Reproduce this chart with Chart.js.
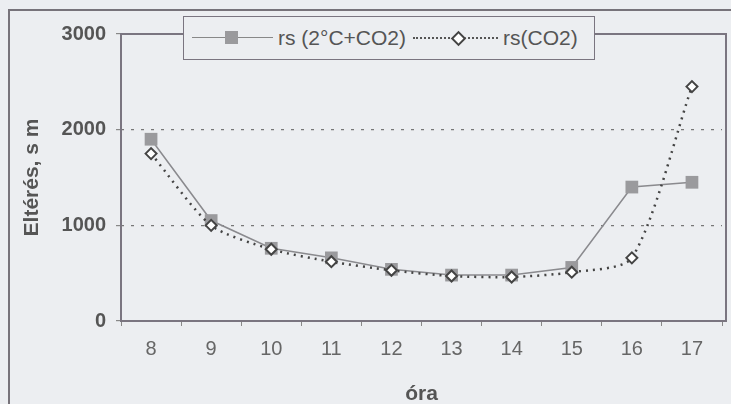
<!DOCTYPE html>
<html>
<head>
<meta charset="utf-8">
<script src="https://cdn.jsdelivr.net/npm/chart.js@4/dist/chart.umd.min.js"></script>
<style>
  html, body { margin: 0; padding: 0; background: #eceef1; }
  #wrap { position: relative; width: 731px; height: 404px; }
  #frame { position: absolute; left: 8px; top: 9px; right: -4px; bottom: -4px; border-left: 2px solid #77737a; border-top: 2px solid #77737a; }
  #legend {
    position: absolute; left: 183px; top: 16px; width: 410px; height: 42px;
    border: 1.5px solid #7a7580; background: #eceef1;
    font-family: "Liberation Sans", Arial, sans-serif; font-size: 21px; color: #555;
    display: flex; align-items: center; white-space: nowrap;
  }
  .sample { position: relative; display: inline-block; height: 14px; }
  .sample .ln { position: absolute; left: 0; right: 0; top: 6px; }
  .sq { position: absolute; width: 13px; height: 13px; background: #9a9a9d; top: 0px; }
  .dm { position: absolute; width: 7px; height: 7px; background: #fff; border: 2px solid #444; transform: rotate(45deg); top: 2px; }
</style>
</head>
<body>
<div id="wrap">
  <div id="frame"></div>
  <canvas id="chart" width="731" height="404"></canvas>
  <div id="legend">
    <span class="sample" style="width:81px;margin-left:8px">
      <span class="ln" style="border-top:1px solid #888"></span>
      <span class="sq" style="left:33px"></span>
    </span>
    <span id="lab1" style="margin-left:5px"></span>
    <span class="sample" style="width:85px;margin-left:7px">
      <span class="ln" style="border-top:2.5px dotted #555"></span>
      <span class="dm" style="left:40px"></span>
    </span>
    <span id="lab2" style="margin-left:5px"></span>
  </div>
</div>
<script>
// data
const hours = ['8', '9', '10', '11', '12', '13', '14', '15', '16', '17'];
const labelWarm = 'rs (2°C+CO2)';
const labelCO2 = 'rs(CO2)';
const rsWarm = [1900, 1050, 760, 660, 540, 480, 480, 560, 1400, 1450];
const rsCO2 = [1750, 1000, 750, 620, 530, 470, 460, 510, 660, 2450];
const yTicks = [0, 1000, 2000, 3000];

document.getElementById('lab1').textContent = labelWarm;
document.getElementById('lab2').textContent = labelCO2;

const FONT = '"Liberation Sans", Arial, sans-serif';

// box round the plot area (right side sits a little past the last category)
const plotBorder = {
  id: 'plotBorder',
  afterDatasetsDraw(chart) {
    const { ctx, chartArea: a } = chart;
    ctx.save();
    ctx.strokeStyle = '#7a7580';
    ctx.lineWidth = 2;
    ctx.strokeRect(a.left, a.top, a.right - a.left + 4, a.bottom - a.top);
    ctx.restore();
  }
};

new Chart(document.getElementById('chart'), {
  type: 'line',
  data: {
    labels: hours,
    datasets: [{
      label: labelWarm,
      data: rsWarm,
      borderColor: '#8a8a8e',
      borderWidth: 1.5,
      pointStyle: 'rect',
      pointRadius: 9,
      pointBackgroundColor: '#9a9a9d',
      pointBorderColor: '#9a9a9d',
      pointBorderWidth: 0,
      tension: 0,
      order: 2
    }, {
      label: labelCO2,
      data: rsCO2,
      borderColor: '#444',
      borderWidth: 2.5,
      borderDash: [2, 5],
      pointStyle: 'rectRot',
      pointRadius: 5.5,
      pointBackgroundColor: '#fff',
      pointBorderColor: '#444',
      pointBorderWidth: 2,
      tension: 0.25,
      order: 1
    }]
  },
  options: {
    responsive: false,
    animation: false,
    layout: { padding: { top: 34, right: 4, left: 0, bottom: 0 } },
    plugins: { legend: { display: false }, tooltip: { enabled: false } },
    scales: {
      x: {
        offset: true,
        afterFit(scale) { scale.height = 83; scale.paddingRight = 0; scale.paddingLeft = 0; },
        grid: { drawOnChartArea: false, offset: true, tickLength: 5, tickColor: '#888' },
        border: { display: false },
        ticks: { color: '#666', padding: 11, font: { family: FONT, size: 20 } },
        title: { display: true, text: 'óra', color: '#555', padding: { top: 4, bottom: -3 }, font: { family: FONT, size: 21, weight: 'bold' } }
      },
      y: {
        min: 0,
        max: 3000,
        afterFit(scale) { scale.width = 121; },
        afterBuildTicks(scale) { scale.ticks = yTicks.map(v => ({ value: v })); },
        grid: {
          color: ctx => (ctx.tick && (ctx.tick.value === 1000 || ctx.tick.value === 2000)) ? '#777' : 'rgba(0,0,0,0)',
          lineWidth: 1.2,
          tickLength: 5,
          tickColor: '#888'
        },
        border: { display: false, dash: [3, 7] },
        ticks: { color: '#555', padding: 10, callback: v => String(v), font: { family: FONT, size: 20, weight: 'bold' } },
        title: { display: true, text: 'Eltérés, s m', color: '#555', padding: { top: 20, bottom: 0 }, font: { family: FONT, size: 21, weight: 'bold' } }
      }
    }
  },
  plugins: [plotBorder]
});
</script>
</body>
</html>
